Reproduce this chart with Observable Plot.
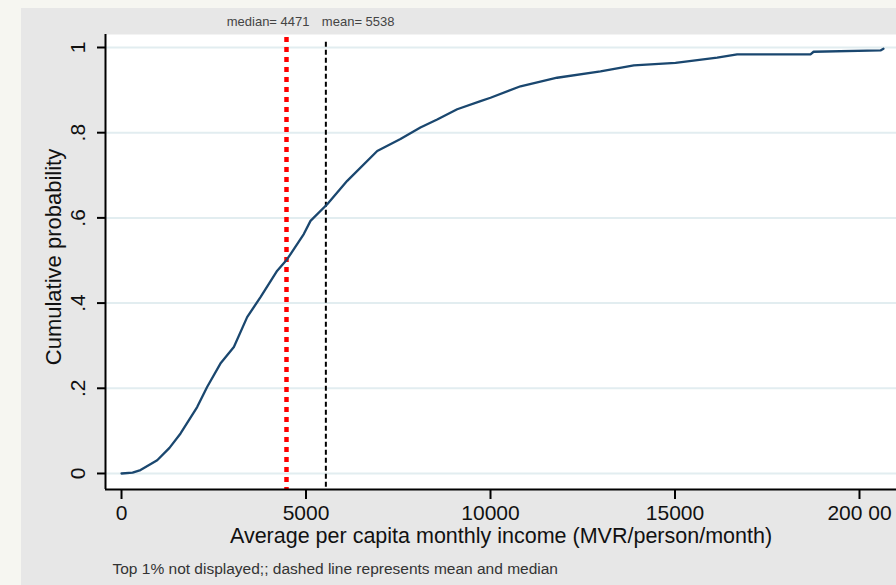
<!DOCTYPE html>
<html>
<head>
<meta charset="utf-8">
<script src="https://cdn.jsdelivr.net/npm/d3@7"></script>
<script src="https://cdn.jsdelivr.net/npm/@observablehq/plot@0.6"></script>
<style>
  html, body { margin: 0; padding: 0; background: #f6f6f1; }
  #wrap { position: relative; width: 896px; height: 585px; overflow: hidden; }
  #panel { position: absolute; left: 21px; top: 8px; width: 875px; height: 577px; background: #e7e7e7; }
  #chart { position: absolute; left: 0; top: 0; }
  #chart svg { background: transparent !important; }
</style>
</head>
<body>
<div id="wrap"><div id="panel"></div><div id="chart"></div></div>
<script>
const income = [0, 300, 515, 967, 1300, 1600, 2050, 2320, 2680, 3045, 3405, 3767, 4220, 4490, 4940, 5122, 5575, 6117, 6930, 7560, 8100, 8555, 9097, 9730, 10000, 10813, 11805, 12981, 13884, 15014, 16143, 16685, 18672, 18756, 20569, 20650];
const cumProb = [0, 0.002, 0.008, 0.031, 0.06, 0.094, 0.156, 0.203, 0.258, 0.297, 0.367, 0.414, 0.476, 0.503, 0.562, 0.593, 0.632, 0.687, 0.757, 0.785, 0.812, 0.831, 0.855, 0.874, 0.882, 0.909, 0.929, 0.944, 0.958, 0.964, 0.976, 0.984, 0.984, 0.990, 0.993, 0.997];
const medianValue = 4471;
const meanValue = 5538;
const xTicks = [0, 5000, 10000, 15000, 20000];
const xTickLabels = ["0", "5000", "10000", "15000", "200 00"];
const yTicks = [0, 0.2, 0.4, 0.6, 0.8, 1];
const yTickLabels = ["0", ".2", ".4", ".6", ".8", "1"];
const xDomain = [-434, 21003];
const yDomain = [-0.0376, 1.0305];

const curve = income.map((x, i) => ({x, y: cumProb[i]}));
const xT = xTicks.map((v, i) => ({v, label: xTickLabels[i]}));
const yT = yTicks.map((v, i) => ({v, label: yTickLabels[i]}));

const font = "'Liberation Sans', Arial, sans-serif";

const chart = Plot.plot({
  width: 896,
  height: 585,
  marginLeft: 105,
  marginRight: 0,
  marginTop: 34,
  marginBottom: 96,
  style: {fontFamily: font, background: "transparent", overflow: "visible"},
  x: {domain: xDomain},
  y: {domain: yDomain},
  marks: [
    Plot.frame({fill: "white", stroke: null}),
    Plot.gridY(yTicks, {stroke: "#e2edf0", strokeOpacity: 1, strokeWidth: 2}),
    Plot.ruleX([medianValue], {stroke: "#ff0000", strokeWidth: 4.5, strokeDasharray: "5,5", y1: yDomain[1] - 0.007, y2: yDomain[0]}),
    Plot.ruleX([meanValue], {stroke: "black", strokeWidth: 2, strokeDasharray: "5,3", y1: yDomain[1] - 0.018, y2: yDomain[0]}),
    Plot.line(curve, {x: "x", y: "y", stroke: "#1a476f", strokeWidth: 2.3}),
    Plot.ruleX([xDomain[0]], {stroke: "black", strokeWidth: 2}),
    Plot.ruleY([yDomain[0]], {stroke: "black", strokeWidth: 2}),
    Plot.axisX({ticks: xTicks, tickSize: 10, tickFormat: () => "", stroke: "black", strokeWidth: 2, label: null}),
    Plot.axisY({ticks: yTicks, tickSize: 8, tickFormat: () => "", stroke: "black", strokeWidth: 2, label: null}),
    Plot.text(xT, {x: "v", text: "label", frameAnchor: "bottom", dy: 24, fontSize: 21, fill: "#111", textAnchor: "middle", lineAnchor: "middle"}),
    Plot.text(yT, {y: "v", text: "label", frameAnchor: "left", dx: -27, rotate: -90, fontSize: 21, fill: "#111", textAnchor: "middle", lineAnchor: "middle"}),
    Plot.text(["Cumulative probability"], {frameAnchor: "left", dx: -52, dy: -5, rotate: -90, fontSize: 22, fill: "#111", textAnchor: "middle", lineAnchor: "middle"}),
    Plot.text(["Average per capita monthly income (MVR/person/month)"], {frameAnchor: "bottom", dy: 47, fontSize: 21.5, fill: "#111", textAnchor: "middle", lineAnchor: "middle"}),
    Plot.text(["Top 1% not displayed;; dashed line represents mean and median"], {frameAnchor: "bottom-left", dx: 7, dy: 80, fontSize: 15.5, fill: "#333", textAnchor: "start", lineAnchor: "middle"}),
    Plot.text([medianValue], {x: d => d, text: d => `median= ${d}`, frameAnchor: "top", dx: 23, dy: -13, textAnchor: "end", fontSize: 13, fill: "#444", lineAnchor: "middle"}),
    Plot.text([meanValue], {x: d => d, text: d => `mean= ${d}`, frameAnchor: "top", dx: -4, dy: -13, textAnchor: "start", fontSize: 13, fill: "#444", lineAnchor: "middle"})
  ]
});
document.getElementById("chart").appendChild(chart);
</script>
</body>
</html>
